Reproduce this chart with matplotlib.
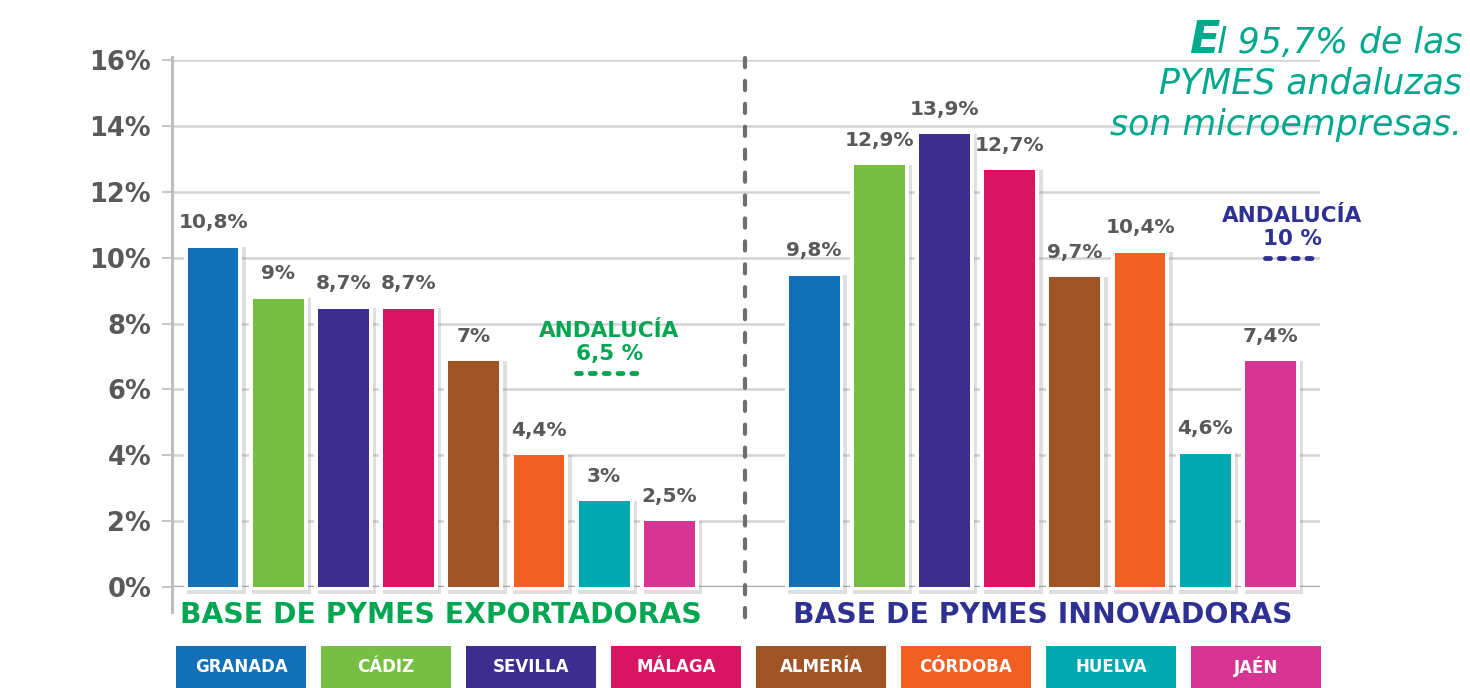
import matplotlib
matplotlib.use("Agg")
import matplotlib.pyplot as plt
import matplotlib.patheffects as pe
from matplotlib.patches import Rectangle
import numpy as np

# data
provinces = ["GRANADA", "CÁDIZ", "SEVILLA", "MÁLAGA", "ALMERÍA", "CÓRDOBA", "HUELVA", "JAÉN"]
colors = ["#1170b8", "#76bf43", "#3d2d8e", "#d81563", "#a05426", "#f15f22", "#00a9b0", "#d63594"]

export_labels = ["10,8%", "9%", "8,7%", "8,7%", "7%", "4,4%", "3%", "2,5%"]
export_bars = [10.3, 8.75, 8.45, 8.45, 6.85, 4.0, 2.6, 2.0]   # bar tops as drawn
innov_labels = ["9,8%", "12,9%", "13,9%", "12,7%", "9,7%", "10,4%", "4,6%", "7,4%"]
innov_bars = [9.45, 12.8, 13.75, 12.65, 9.4, 10.15, 4.05, 6.85]

andalucia_export = 6.5
andalucia_innov = 10.0
yticks = [0, 2, 4, 6, 8, 10, 12, 14, 16]

GRAY_TXT = "#58595b"
GREEN = "#00a651"
NAVY = "#2e3192"
TEAL = "#00a88e"

W, H = 1470, 688
fig = plt.figure(figsize=(W / 100, H / 100), dpi=100)

def fx(px):
    return px / W

def fy(py):
    return 1 - py / H

ax = fig.add_axes([fx(172), fy(587), fx(1320) - fx(172), fy(60) - fy(587)])
ax.set_xlim(-0.63, 16.98)
ax.set_ylim(0, 16)

pos_exp = np.arange(8)
pos_inn = np.arange(8) + 9.22

shadow = [pe.SimplePatchShadow(offset=(2.5, -2.5), shadow_rgbFace="#808285", alpha=0.25), pe.Normal()]

def draw_group(pos, bars, labels):
    for x, h, lab, c in zip(pos, bars, labels, colors):
        ax.bar(x, h + 0.22, bottom=-0.1, width=0.9, color="white", zorder=3,
               path_effects=shadow, clip_on=False)
        ax.bar(x, h, width=0.78, color=c, zorder=4)
        ax.annotate(lab, (x, h), xytext=(0, 14), textcoords="offset points",
                    ha="center", va="baseline", fontsize=14.5, fontweight="bold",
                    color=GRAY_TXT, zorder=5)

draw_group(pos_exp, export_bars, export_labels)
draw_group(pos_inn, innov_bars, innov_labels)

# axes styling
for s in ax.spines.values():
    s.set_visible(False)
ax.set_xticks([])
ax.set_yticks(yticks)
ax.set_yticklabels([f"{v}%" for v in yticks], fontsize=18.5, fontweight="bold", color=GRAY_TXT)
ax.tick_params(axis="y", length=7, width=1.5, color="#c7c8ca", pad=8)
ax.yaxis.grid(True, color="#d1d3d4", lw=1.8, zorder=0)
ax.set_axisbelow(True)
ax.axhline(0, color="#a7a9ac", lw=2.5, zorder=1)
ax.plot([-0.63, -0.63], [16.1, -0.75], color="#bcbec0", lw=2.2, clip_on=False, zorder=1)

# separator
ax.plot([8.16, 8.16], [16.05, -1.3], color="#6d6e71", lw=3, dashes=[2.2, 3.3],
        dash_capstyle="round", clip_on=False, zorder=2)

# group titles
ax.text(pos_exp.mean(), -0.85, "BASE DE PYMES EXPORTADORAS", ha="center", va="center",
        fontsize=20.3, fontweight="bold", color=GREEN)
ax.text(pos_inn.mean(), -0.85, "BASE DE PYMES INNOVADORAS", ha="center", va="center",
        fontsize=20.3, fontweight="bold", color=NAVY)

# Andalucia markers
def andalucia(xc, half, y, val, col):
    ax.plot([xc - half, xc + half], [y, y], color=col, lw=3.5, dashes=[1.0, 1.85],
            dash_capstyle="round", zorder=5)
    ax.annotate(val, (xc, y), xytext=(0, 9), textcoords="offset points", ha="center",
                va="baseline", fontsize=15.5, fontweight="bold", color=col)
    ax.annotate("ANDALUCÍA", (xc, y), xytext=(0, 26), textcoords="offset points", ha="center",
                va="baseline", fontsize=15.5, fontweight="bold", color=col)

andalucia(6.08, 0.52, andalucia_export, "6,5 %", GREEN)
andalucia(16.55, 0.42, andalucia_innov, "10 %", NAVY)

# title
tfont = dict(fontsize=25, style="oblique", family="DejaVu Sans", color=TEAL)
t1 = fig.text(fx(1462), fy(53), "l 95,7% de las", ha="right", va="baseline", **tfont)
fig.text(fx(1462), fy(94), "PYMES andaluzas", ha="right", va="baseline", **tfont)
fig.text(fx(1462), fy(135), "son microempresas.", ha="right", va="baseline", **tfont)
fig.canvas.draw()
bb = t1.get_window_extent()
fig.text(fx(bb.x0 + 3), fy(53), "E", ha="right", va="baseline", fontsize=32, style="oblique",
         fontweight="bold", family="DejaVu Sans", color=TEAL)

# province legend
ax_leg = fig.add_axes([fx(176), 0, fx(1336) - fx(176), 42 / H])
ax_leg.set_xlim(0, 8)
ax_leg.set_ylim(0, 1)
ax_leg.axis("off")
for i, (p, c) in enumerate(zip(provinces, colors)):
    ax_leg.add_patch(Rectangle((i, -0.2), 130 / 145, 1.2, facecolor=c, edgecolor="none"))
    ax_leg.text(i + 65 / 145, 0.5, p, ha="center", va="center", fontsize=12,
                fontweight="bold", color="white")

fig.savefig("out.png", dpi=100)
